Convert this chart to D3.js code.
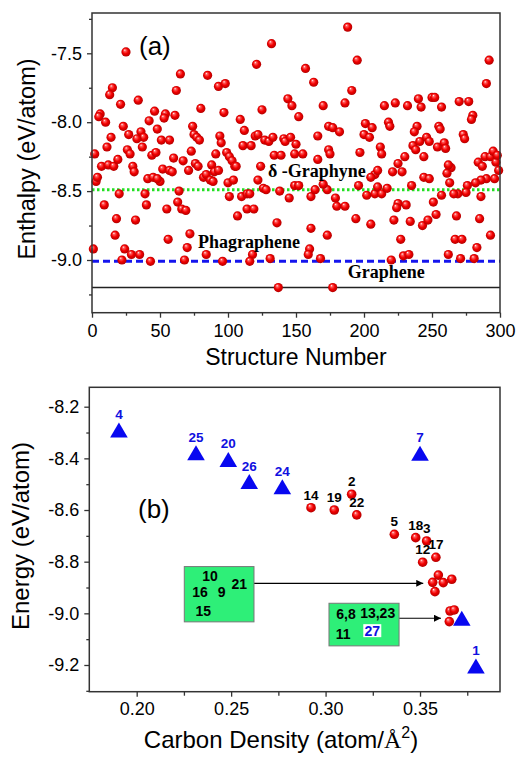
<!DOCTYPE html>
<html>
<head>
<meta charset="utf-8">
<script src="https://cdn.jsdelivr.net/npm/d3@7"></script>
<style>
  body { margin: 0; background: #fff; }
  svg { display: block; }
  .tick text { font-family: "Liberation Sans", Arial, sans-serif; font-size: 18px; fill: #000; }
  .tick line { stroke: #333; stroke-width: 1.3; }
</style>
</head>
<body>
<div id="chart"></div>
<script>
// panel (a): enthalpy of random structures
const structureNo = [25,132,121,65,85,93,98,15,13,62,34,21,144,147,80,125,97,6,5,46,54,53,61,152,10,42,109,23,48,74,75,77,79,112,14,27,36,38,33,51,57,94,95,120,122,127,130,133,141,142,146,150,2,11,26,28,37,44,47,60,67,73,91,99,101,103,111,117,134,139,149,7,12,16,19,30,31,52,57,76,78,88,105,124,3,4,41,45,50,48,59,71,82,84,87,89,90,93,106,100,104,122,126,128,149,20,39,64,101,110,114,116,138,145,9,40,63,66,69,55,114,119,107,18,32,136,17,72,56,1,24,70,29,35,84,118,22,43,68,96,116,131,137,
  188,195,157,163,191,186,292,290,170,215,223,232,240,242,250,252,257,270,277,280,279,174,177,182,166,201,206,200,204,218,219,239,237,255,256,273,274,174,175,197,212,213,230,225,228,236,238,241,246,248,244,254,259,260,264,261,155,166,284,287,289,293,295,297,298,299,208,205,210,221,244,248,262,263,290,296,286,276,282,275,269,266,257,286,152,161,164,173,170,196,202,208,210,213,217,235,179,180,186,225,231,224,251,194,205,222,234,243,247,253,268,285,161,173,227,267,272,293,160,159,283,229,233,262,168,220,271,281,177];
const enthalpy = [-7.49,-7.43,-7.58,-7.65,-7.66,-7.74,-7.72,-7.75,-7.80,-7.77,-7.84,-7.87,-7.83,-7.88,-7.90,-7.91,-7.93,-7.94,-7.96,-7.92,-7.94,-7.97,-7.95,-7.96,-8.00,-7.99,-7.98,-8.03,-8.05,-8.03,-8.09,-8.11,-8.13,-8.06,-8.11,-8.09,-8.07,-8.11,-8.12,-8.13,-8.13,-8.10,-8.15,-8.10,-8.09,-8.13,-8.14,-8.11,-8.12,-8.14,-8.11,-8.16,-8.23,-8.18,-8.20,-8.23,-8.18,-8.24,-8.22,-8.26,-8.28,-8.21,-8.23,-8.22,-8.25,-8.28,-8.17,-8.17,-8.24,-8.24,-8.23,-8.32,-8.31,-8.32,-8.27,-8.32,-8.36,-8.34,-8.35,-8.30,-8.32,-8.31,-8.32,-8.32,-8.43,-8.40,-8.41,-8.40,-8.43,-8.41,-8.36,-8.35,-8.40,-8.38,-8.42,-8.43,-8.36,-8.35,-8.32,-8.44,-8.42,-8.42,-8.48,-8.49,-8.46,-8.52,-8.52,-8.50,-8.54,-8.54,-8.52,-8.52,-8.50,-8.55,-8.60,-8.60,-8.58,-8.63,-8.64,-8.63,-8.63,-8.63,-8.68,-8.70,-8.71,-8.73,-8.82,-8.81,-8.85,-8.92,-8.92,-8.91,-8.96,-8.96,-8.96,-8.96,-9.00,-9.01,-9.00,-9.01,-9.01,-8.99,-9.20,
  -7.31,-7.55,-7.61,-7.71,-7.77,-7.86,-7.55,-7.72,-7.88,-7.88,-7.86,-7.88,-7.83,-7.89,-7.82,-7.82,-7.89,-7.85,-7.85,-7.95,-7.98,-8.03,-8.04,-8.07,-8.10,-8.01,-8.04,-8.09,-8.11,-8.00,-8.03,-8.03,-8.07,-8.03,-8.05,-8.09,-8.12,-8.20,-8.23,-8.22,-8.18,-8.23,-8.25,-8.30,-8.36,-8.17,-8.20,-8.14,-8.11,-8.14,-8.25,-8.18,-8.15,-8.19,-8.33,-8.37,-8.23,-8.27,-8.29,-8.32,-8.25,-8.25,-8.21,-8.29,-8.24,-8.35,-8.38,-8.40,-8.35,-8.36,-8.40,-8.41,-8.31,-8.44,-8.41,-8.41,-8.42,-8.46,-8.44,-8.51,-8.52,-8.52,-8.53,-8.54,-8.46,-8.54,-8.49,-8.49,-8.45,-8.46,-8.53,-8.52,-8.47,-8.52,-8.48,-8.46,-8.55,-8.61,-8.61,-8.59,-8.60,-8.62,-8.58,-8.70,-8.74,-8.71,-8.72,-8.75,-8.71,-8.67,-8.68,-8.70,-8.77,-8.82,-8.85,-8.85,-8.85,-8.82,-8.92,-8.96,-8.91,-8.97,-8.96,-8.96,-8.99,-9.00,-8.99,-8.99,-9.20];
const refNames = ["\u03b4 -Graphyne", "Phagraphene", "Graphene"];
const refEnergy = [-8.49, -9.01, -9.20];
const aXTicks = [0, 50, 100, 150, 200, 250, 300];
const aYTicks = [-9.0, -8.5, -8.0, -7.5];

// panel (b): energy vs carbon density
const circleLabels = ["14", "19", "2", "22", "5", "18", "3", "17", "12", "", "", "", "", "", "", "", ""];
const circleDensity = [0.2923, 0.3046, 0.3138, 0.3165, 0.3364, 0.3477, 0.3535, 0.3584, 0.3514, 0.3597, 0.3567, 0.3623, 0.3668, 0.3579, 0.3659, 0.3681, 0.3655];
const circleEnergy = [-8.591, -8.600, -8.539, -8.619, -8.694, -8.707, -8.720, -8.783, -8.802, -8.852, -8.880, -8.881, -8.868, -8.916, -8.991, -8.987, -9.032];
const triLabels = ["4", "25", "20", "26", "24", "7", "", "1"];
const triDensity = [0.1906, 0.2314, 0.2485, 0.2596, 0.2771, 0.3500, 0.3721, 0.3796];
const triEnergy = [-8.290, -8.378, -8.404, -8.490, -8.510, -8.380, -9.019, -9.204];
const bXTicks = [0.20, 0.25, 0.30, 0.35];
const bYTicks = [-9.2, -9.0, -8.8, -8.6, -8.4, -8.2];

const W = 519, H = 757;
const svg = d3.select("#chart").append("svg").attr("width", W).attr("height", H);
const defs = svg.append("defs");

const grad = defs.append("radialGradient").attr("id", "ball")
  .attr("cx", "50%").attr("cy", "50%").attr("r", "55%")
  .attr("fx", "35%").attr("fy", "28%");
grad.append("stop").attr("offset", "0").attr("stop-color", "#ffffff");
grad.append("stop").attr("offset", "0.2").attr("stop-color", "#ff6060");
grad.append("stop").attr("offset", "0.55").attr("stop-color", "#f20000");
grad.append("stop").attr("offset", "1").attr("stop-color", "#a80000");

defs.append("marker").attr("id", "arrow")
  .attr("viewBox", "0 0 10 10").attr("refX", 10).attr("refY", 5)
  .attr("markerWidth", 10).attr("markerHeight", 7).attr("markerUnits", "userSpaceOnUse")
  .attr("orient", "auto")
  .append("path").attr("d", "M0,0 L10,5 L0,10 Z").attr("fill", "#000");

const sans = '"Liberation Sans", Arial, sans-serif';
const serif = '"Liberation Serif", "Times New Roman", serif';

function frame(x0, y0, x1, y1) {
  svg.append("rect")
    .attr("x", x0).attr("y", y0)
    .attr("width", x1 - x0).attr("height", y1 - y0)
    .attr("fill", "none").attr("stroke", "#333").attr("stroke-width", 1.5);
}

// ---------- panel (a) ----------
const ax = d3.scaleLinear().domain([0, 300]).range([92, 500]);
const ay = d3.scaleLinear().domain([-9.3825, -7.2075]).range([312.7, 13]);

svg.append("g").attr("transform", "translate(0,312.7)")
  .call(d3.axisBottom(ax).tickValues(d3.range(25, 300, 50)).tickSize(3).tickFormat(""))
  .call(g => g.select(".domain").remove());
svg.append("g").attr("transform", "translate(0,312.7)")
  .call(d3.axisBottom(ax).tickValues(aXTicks).tickSize(5).tickPadding(7).tickFormat(d => d))
  .call(g => g.select(".domain").remove());
svg.append("g").attr("transform", "translate(92,0)")
  .call(d3.axisLeft(ay).tickValues([-9.25, -8.75, -8.25, -7.75, -7.25]).tickSize(3).tickFormat(""))
  .call(g => g.select(".domain").remove());
svg.append("g").attr("transform", "translate(92,0)")
  .call(d3.axisLeft(ay).tickValues(aYTicks).tickSize(5).tickPadding(5).tickFormat(d => d.toFixed(1)))
  .call(g => g.select(".domain").remove());

// reference lines
svg.append("line").attr("x1", ax(0)).attr("x2", ax(300))
  .attr("y1", ay(refEnergy[2])).attr("y2", ay(refEnergy[2]))
  .attr("stroke", "#222").attr("stroke-width", 1.5);
svg.append("line").attr("x1", ax(0)).attr("x2", ax(300))
  .attr("y1", ay(refEnergy[1])).attr("y2", ay(refEnergy[1]))
  .attr("stroke", "#1515ee").attr("stroke-width", 3).attr("stroke-dasharray", "7,4");
svg.append("line").attr("x1", ax(0)).attr("x2", ax(300))
  .attr("y1", ay(refEnergy[0])).attr("y2", ay(refEnergy[0]))
  .attr("stroke", "#22e022").attr("stroke-width", 3).attr("stroke-dasharray", "2.5,2.5");

svg.append("g").selectAll("circle")
  .data(structureNo.map((s, i) => [s, enthalpy[i]]))
  .enter().append("circle")
  .attr("cx", d => ax(d[0])).attr("cy", d => ay(d[1]))
  .attr("r", 4.6).attr("fill", "url(#ball)");

frame(92, 13, 500, 312.7);

// labels for reference lines
const refLabelX = [129.4, 78, 188];
const refLabelUp = [12.6, 13.7, 9.7];
refNames.forEach((n, i) => {
  svg.append("text")
    .attr("x", ax(refLabelX[i])).attr("y", ay(refEnergy[i]) - refLabelUp[i])
    .attr("font-family", serif).attr("font-weight", "bold").attr("font-size", 18)
    .text(n);
});

svg.append("text").attr("x", 139).attr("y", 55)
  .attr("font-family", sans).attr("font-size", 26).text("(a)");

svg.append("text").attr("x", 296).attr("y", 365).attr("text-anchor", "middle")
  .attr("font-family", sans).attr("font-size", 23).text("Structure Number");
svg.append("text").attr("transform", "translate(35,159) rotate(-90)").attr("text-anchor", "middle")
  .attr("font-family", sans).attr("font-size", 23.5).text("Enthalpy (eV/atom)");

// ---------- panel (b) ----------
const bx = d3.scaleLinear().domain([0.17491, 0.39234]).range([89.3, 500]);
const by = d3.scaleLinear().domain([-9.3034, -8.1249]).range([691.7, 387.3]);

svg.append("g").attr("transform", "translate(0,691.7)")
  .call(d3.axisBottom(bx).tickValues([0.225, 0.275, 0.325, 0.375]).tickSize(4).tickFormat(""))
  .call(g => g.select(".domain").remove());
svg.append("g").attr("transform", "translate(0,691.7)")
  .call(d3.axisBottom(bx).tickValues(bXTicks).tickSize(5).tickPadding(6).tickFormat(d => d.toFixed(2)))
  .call(g => g.select(".domain").remove());
svg.append("g").attr("transform", "translate(89.3,0)")
  .call(d3.axisLeft(by).tickValues([-9.3, -9.1, -8.9, -8.7, -8.5, -8.3]).tickSize(3).tickFormat(""))
  .call(g => g.select(".domain").remove());
svg.append("g").attr("transform", "translate(89.3,0)")
  .call(d3.axisLeft(by).tickValues(bYTicks).tickSize(5).tickPadding(5).tickFormat(d => d.toFixed(1)))
  .call(g => g.select(".domain").remove());

frame(89.3, 387.3, 500, 691.7);

// annotation boxes with arrows
function box(x0, y0, x1, y1, target, labels) {
  const px0 = bx(x0), py0 = by(y0), px1 = bx(x1), py1 = by(y1);
  svg.append("line")
    .attr("x1", px1).attr("y1", by(target[1]))
    .attr("x2", bx(target[0])).attr("y2", by(target[1]))
    .attr("stroke", "#000").attr("stroke-width", 1.2)
    .attr("marker-end", "url(#arrow)");
  svg.append("rect").attr("x", px0).attr("y", py0)
    .attr("width", px1 - px0).attr("height", py1 - py0)
    .attr("fill", "#2eef78").attr("stroke", "#777").attr("stroke-width", 1);
  labels.forEach(l => {
    if (l.bg) {
      svg.append("rect").attr("x", px0 + l.dx - 9).attr("y", py0 + l.dy - 6.5)
        .attr("width", 18).attr("height", 13).attr("fill", "#fff");
    }
    svg.append("text").attr("x", px0 + l.dx).attr("y", py0 + l.dy)
      .attr("text-anchor", "middle").attr("dominant-baseline", "central")
      .attr("font-family", sans).attr("font-weight", "bold").attr("font-size", 14)
      .attr("fill", l.color || "#000").text(l.t);
  });
}
box(0.2252, -8.819, 0.2621, -9.033, [0.3517, -8.884], [
  {t: "10", dx: 25.7, dy: 9}, {t: "16", dx: 15.7, dy: 25.6}, {t: "9", dx: 37.4, dy: 25.6},
  {t: "21", dx: 55, dy: 17.6}, {t: "15", dx: 19, dy: 44}
]);
box(0.3018, -8.961, 0.3389, -9.126, [0.3611, -9.019], [
  {t: "6,8", dx: 17, dy: 10.7}, {t: "13,23", dx: 48.7, dy: 9.4}, {t: "11", dx: 14.3, dy: 31},
  {t: "27", dx: 43.3, dy: 27.4, color: "#1010e0", bg: true}
]);

// circles
svg.append("g").selectAll("circle")
  .data(circleDensity.map((d, i) => [d, circleEnergy[i]]))
  .enter().append("circle")
  .attr("cx", d => bx(d[0])).attr("cy", d => by(d[1]))
  .attr("r", 4.8).attr("fill", "url(#ball)");
svg.append("g").selectAll("text")
  .data(circleDensity.map((d, i) => [d, circleEnergy[i], circleLabels[i]]).filter(d => d[2]))
  .enter().append("text")
  .attr("x", d => bx(d[0])).attr("y", d => by(d[1]) - 12.5)
  .attr("text-anchor", "middle").attr("dominant-baseline", "central")
  .attr("font-family", sans).attr("font-weight", "bold").attr("font-size", 13.5)
  .text(d => d[2]);

// triangles
svg.append("g").selectAll("path")
  .data(triDensity.map((d, i) => [d, triEnergy[i]]))
  .enter().append("path")
  .attr("transform", d => "translate(" + bx(d[0]) + "," + by(d[1]) + ")")
  .attr("d", "M0,-7.5 L8.8,7.5 L-8.8,7.5 Z")
  .attr("fill", "#0808f0");
svg.append("g").selectAll("text")
  .data(triDensity.map((d, i) => [d, triEnergy[i], triLabels[i]]).filter(d => d[2]))
  .enter().append("text")
  .attr("x", d => bx(d[0])).attr("y", d => by(d[1]) - 15.5)
  .attr("text-anchor", "middle").attr("dominant-baseline", "central")
  .attr("font-family", sans).attr("font-weight", "bold").attr("font-size", 13.5)
  .attr("fill", "#1010e0")
  .text(d => d[2]);

svg.append("text").attr("x", 138).attr("y", 518)
  .attr("font-family", sans).attr("font-size", 26).text("(b)");

const xt = svg.append("text").attr("x", 281).attr("y", 748).attr("text-anchor", "middle")
  .attr("font-family", sans).attr("font-size", 24);
xt.append("tspan").text("Carbon Density (atom/");
xt.append("tspan").attr("font-family", serif).text("\u00c5");
xt.append("tspan").attr("font-size", 16).attr("dy", -10).text("2");
xt.append("tspan").attr("dy", 10).text(")");

svg.append("text").attr("transform", "translate(29,536) rotate(-90)").attr("text-anchor", "middle")
  .attr("font-family", sans).attr("font-size", 24).text("Energy (eV/atom)");
</script>
</body>
</html>
